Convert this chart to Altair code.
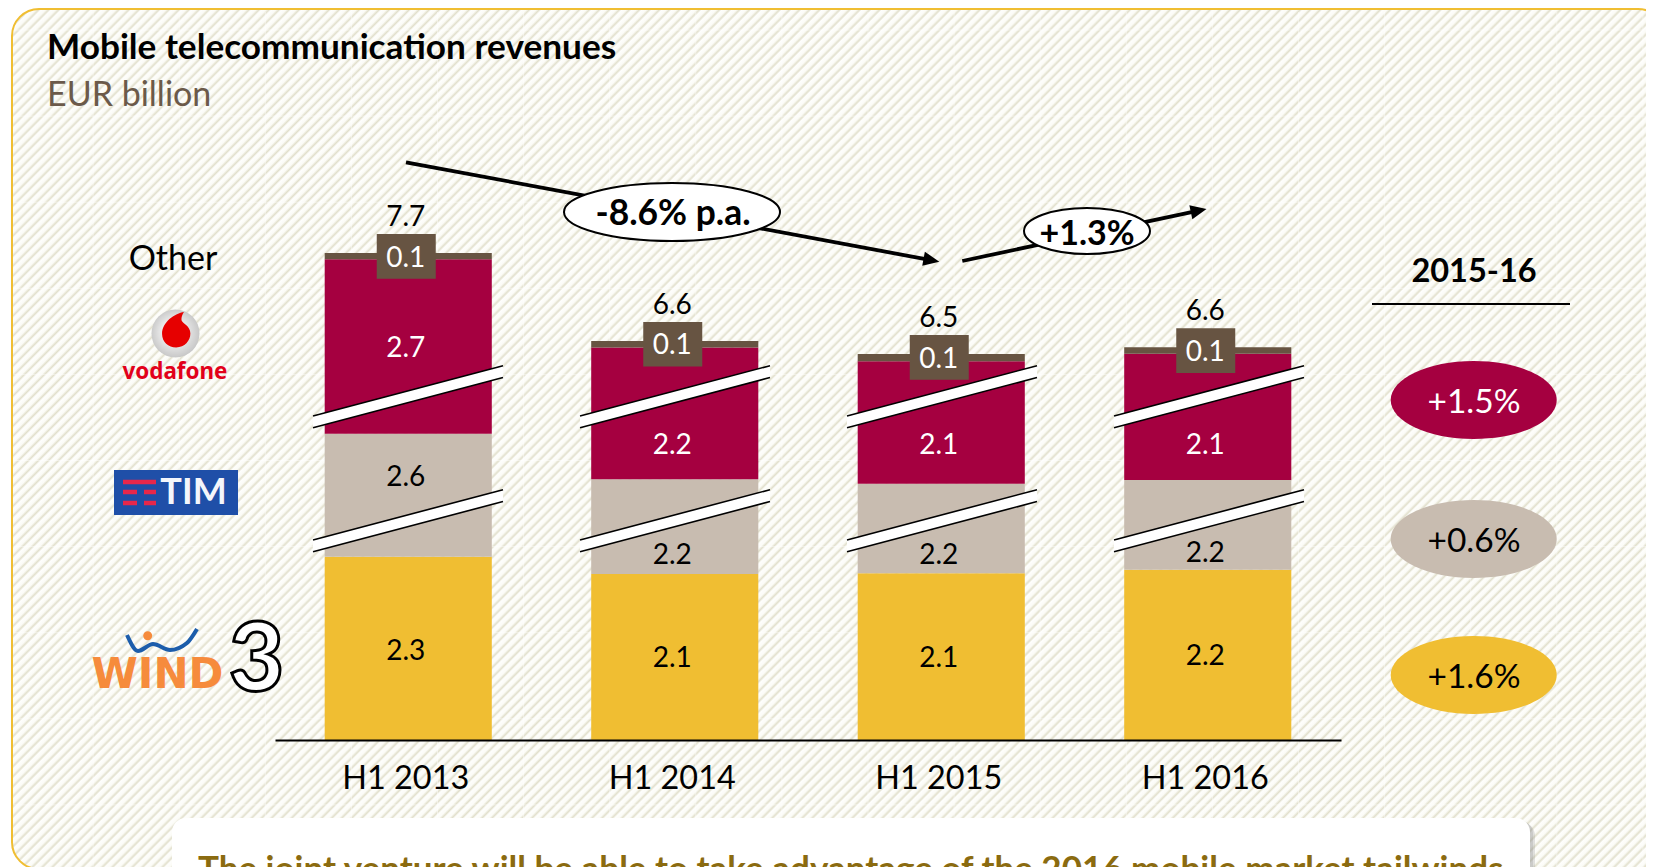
import math
import altair as alt

# ---------- data ----------
periods = ["H1 2013", "H1 2014", "H1 2015", "H1 2016"]
series = ["Wind/3", "TIM", "Vodafone", "Other"]
# printed figures
wind_labels = ["2.3", "2.1", "2.1", "2.2"]
tim_labels = ["2.6", "2.2", "2.2", "2.2"]
voda_labels = ["2.7", "2.2", "2.1", "2.1"]
other_labels = ["0.1", "0.1", "0.1", "0.1"]
total_labels = ["7.7", "6.6", "6.5", "6.6"]
# visible segment lengths (the two upper segments are drawn with axis breaks)
wind_drawn = [2.32, 2.10, 2.11, 2.155]
tim_drawn = [1.557, 1.20, 1.135, 1.135]
voda_drawn = [2.21, 1.667, 1.55, 1.60]
other_drawn = [0.076, 0.084, 0.09, 0.08]
# where each printed figure sits on the bar's scale
wind_label_at = [1.14, 1.05, 1.05, 1.08]
tim_label_at = [3.34, 2.356, 2.356, 2.38]
voda_label_at = [4.97, 3.75, 3.75, 3.75]
growth_labels = ["+1.5%", "+0.6%", "+1.6%"]
colors = {"Wind/3": "#f0be32", "TIM": "#c8bcb0", "Vodafone": "#a50040", "Other": "#675442"}
BROWN = colors["Other"]

FONT = "Lato"
W, H = 1638, 859

# ---------- scales ----------
def px(f):
    return alt.X(f, type="quantitative", scale=alt.Scale(domain=[8, 8 + W], range=[0, W], nice=False, zero=False), axis=None)

def py(f):
    return alt.Y(f, type="quantitative", scale=alt.Scale(domain=[8 + H, 8], range=[H, 0], nice=False, zero=False), axis=None)

BAND = alt.Scale(domain=periods, range=[267, 1333], paddingInner=0.373, paddingOuter=0.1865)
VAL = alt.Scale(domain=[0, 8], range=[732, 100], nice=False, zero=False)
UNIT = 79.0

def bx(axis=None):
    return alt.X("p:N", scale=BAND, sort=periods, axis=axis, title=None)

def by(f):
    return alt.Y(f, type="quantitative", scale=VAL, axis=None, stack=None)

def txt(t, x, y, size, color="black", weight="normal", align="center", baseline="middle", **kw):
    return alt.Chart(alt.Data(values=[{"x": x, "y": y, "t": t}])).mark_text(
        font=kw.pop("font", FONT), fontSize=size, color=color, fontWeight=weight, align=align, baseline=baseline,
        dy=2 if baseline == "middle" else 0, **kw
    ).encode(x=px("x"), y=py("y"), text="t:N")

def ellipse_path(b):
    k = 0.5523
    return (f"M-1,0 C-1,{-k*b} {-k},{-b} 0,{-b} C{k},{-b} 1,{-k*b} 1,0 "
            f"C1,{k*b} {k},{b} 0,{b} C{-k},{b} -1,{k*b} -1,0 Z")

def ell(x, y, w, h, fill, stroke=None, sw=0):
    kw = {"stroke": stroke, "strokeWidth": sw} if stroke else {"strokeWidth": 0}
    return alt.Chart(alt.Data(values=[{"x": x, "y": y}])).mark_point(
        shape=ellipse_path(h / w), size=w * w, filled=True, fill=fill, opacity=1, **kw
    ).encode(x=px("x"), y=py("y"))

def rule(x, y, x2, y2, color="black", width=2, **kw):
    return alt.Chart(alt.Data(values=[{"x": x, "y": y, "x2": x2, "y2": y2}])).mark_rule(
        color=color, strokeWidth=width, **kw
    ).encode(x=px("x"), y=py("y"), x2="x2:Q", y2="y2:Q")

def box(x, y, x2, y2, fill, radius=0, opacity=1, **kw):
    return alt.Chart(alt.Data(values=[{"x": x, "y": y, "x2": x2, "y2": y2}])).mark_rect(
        fill=fill, cornerRadius=radius, opacity=opacity, **kw
    ).encode(x=px("x"), y=py("y"), x2="x2:Q", y2="y2:Q")

# ---------- hatched panel ----------
L, T, R, B = 12, 9, 1665, 869
w, h = R - L, B - T
s = (w + h) / (w * w + h * h)
PERIOD = 10.0
n_stripes = int((w + h) / PERIOD)
stops = []
for i in range(n_stripes):
    stops.append(alt.GradientStop(offset=i / n_stripes, color="#fefefc"))
    stops.append(alt.GradientStop(offset=(i + 0.45) / n_stripes, color="#fbfbf6"))
    stops.append(alt.GradientStop(offset=(i + 0.75) / n_stripes, color="#e2e0cd"))
stops.append(alt.GradientStop(offset=1, color="#fefefc"))
hatch = alt.LinearGradient(gradient="linear", stops=stops, x1=0, y1=0, x2=s * w, y2=s * h)
panel = alt.Chart(alt.Data(values=[{"x": L, "y": T, "x2": R, "y2": B}])).mark_rect(
    fill=hatch, stroke="#f0be32", strokeWidth=2, cornerRadius=27
).encode(x=px("x"), y=py("y"), x2="x2:Q", y2="y2:Q")

seam_rows = []
for k in range(1, 20):
    seam_rows.append({"x": 7 + 86.1 * k, "x2": 7 + 86.1 * k, "y": 12, "y2": 867})
for k in range(0, 10):
    seam_rows.append({"x": 14, "x2": 1654, "y": 30 + 86.1 * k, "y2": 30 + 86.1 * k})
seams = alt.Chart(alt.Data(values=seam_rows)).mark_rule(color="white", strokeWidth=1, opacity=0.45).encode(
    x=px("x"), y=py("y"), x2="x2:Q", y2="y2:Q"
)

# ---------- bars ----------
drawn = {"Wind/3": wind_drawn, "TIM": tim_drawn, "Vodafone": voda_drawn, "Other": other_drawn}
rows = []
for i, p in enumerate(periods):
    for o, sr in enumerate(series):
        rows.append({"p": p, "s": sr, "v": drawn[sr][i], "o": o})
bars = alt.Chart(alt.Data(values=rows)).mark_bar().encode(
    x=bx(alt.Axis(domainColor="black", domainWidth=2, ticks=False, grid=False, labelFont=FONT, labelFontSize=32.4,
                  labelColor="black", labelPadding=22, labelOffset=-2.5, labelAngle=0, offset=732 - H, zindex=1,
                  labelOverlap=False)),
    y=alt.Y("v:Q", scale=VAL, axis=None, stack="zero"),
    color=alt.Color("s:N", scale=alt.Scale(domain=series, range=[colors[k] for k in series]), legend=None),
    order=alt.Order("o:Q"),
)

tops = [wind_drawn[i] + tim_drawn[i] + voda_drawn[i] + other_drawn[i] for i in range(4)]
tag_rows = [{"p": p, "a": tops[i] + 19 / UNIT, "b": tops[i] - 25.6 / UNIT} for i, p in enumerate(periods)]
tags = alt.Chart(alt.Data(values=tag_rows)).mark_bar(size=59, color=BROWN, xOffset=-2).encode(
    x=bx(), y=by("a"), y2="b:Q"
)

# axis breaks
bar_centers = [408 + 267 * i for i in range(4)]
band_rows, line_rows = [], []
for c in bar_centers:
    for shift in (0, 124):
        yl, yr = 416 + shift, 365.7 + shift
        t = 11.8
        band_rows += [
            {"id": f"{c}-{shift}", "x": c - 95, "y": yl, "y2": yl + t},
            {"id": f"{c}-{shift}", "x": c + 95, "y": yr, "y2": yr + t},
        ]
        line_rows += [
            {"x": c - 95, "y": yl, "x2": c + 95, "y2": yr},
            {"x": c - 95, "y": yl + t, "x2": c + 95, "y2": yr + t},
        ]
break_bands = alt.Chart(alt.Data(values=band_rows)).mark_area(color="white", opacity=1).encode(
    x=px("x"), y=alt.Y("y", type="quantitative", scale=alt.Scale(domain=[8 + H, 8], range=[H, 0], nice=False, zero=False), axis=None, stack=None),
    y2="y2:Q", detail="id:N"
)
break_lines = alt.Chart(alt.Data(values=line_rows)).mark_rule(color="black", strokeWidth=1.6).encode(
    x=px("x"), y=py("y"), x2="x2:Q", y2="y2:Q"
)

# printed figures
def fig(labels, at, color):
    vals = [{"p": p, "y": at[i], "t": labels[i]} for i, p in enumerate(periods)]
    return alt.Chart(alt.Data(values=vals)).mark_text(font=FONT, fontSize=28, color=color, baseline="middle", dx=-2.5, dy=2).encode(
        x=bx(), y=by("y"), text="t:N"
    )

figures = [
    fig(wind_labels, wind_label_at, "black"),
    fig(tim_labels, tim_label_at, "black"),
    fig(voda_labels, voda_label_at, "white"),
    fig(other_labels, [t - 3.5 / UNIT for t in tops], "white"),
    fig(total_labels, [t + 37 / UNIT for t in tops], "black"),
]

# ---------- trend arrows ----------
HEAD = "M-1,-0.9 L-1,0.9 L1,0 Z"

def arrow(x0, y0, x1, y1):
    ang = math.atan2(y1 - y0, x1 - x0)
    deg = math.degrees(ang) % 360
    cx, cy = x1 - 8 * math.cos(ang), y1 - 8 * math.sin(ang)
    bx0, by0 = x1 - 14 * math.cos(ang), y1 - 14 * math.sin(ang)
    head = alt.Chart(alt.Data(values=[{"x": cx, "y": cy}])).mark_point(
        shape=HEAD, size=256, filled=True, fill="black", opacity=1, strokeWidth=0, angle=deg
    ).encode(x=px("x"), y=py("y"))
    return [rule(x0, y0, bx0, by0, width=3.8), head]

trend = arrow(406, 162.3, 939.3, 261.7) + arrow(962.3, 261, 1206.5, 209)
trend += [
    ell(672, 212, 216, 58, "white", "black", 2),
    txt("-8.6% p.a.", 673, 212, 35.4, weight="bold"),
    ell(1087, 231, 126, 46, "white", "black", 2),
    txt("+1.3%", 1087, 233, 34, weight="bold"),
]

# ---------- right-hand panel ----------
right = [
    txt("2015-16", 1474, 270, 32.5, weight="bold"),
    rule(1372, 304, 1570, 304, width=2),
    ell(1473.7, 400, 166, 78, colors["Vodafone"]),
    txt(growth_labels[0], 1474, 401, 33.5, color="white"),
    ell(1473.7, 539, 166, 78, colors["TIM"]),
    txt(growth_labels[1], 1474, 540, 33.5),
    ell(1473.7, 675, 166, 78, colors["Wind/3"]),
    txt(growth_labels[2], 1474, 676, 33.5),
]

# ---------- brand marks ----------
sphere = alt.RadialGradient(
    gradient="radial", r1=0.1, r2=0.62, x1=0.45, y1=0.45, x2=0.5, y2=0.5,
    stops=[alt.GradientStop(offset=0, color="#ffffff"), alt.GradientStop(offset=1, color="#b9b9b9")],
)
COMMA = ("M0.35,-0.9 C0,-0.85 -0.56,-0.5 -0.56,0.02 C-0.56,0.35 -0.3,0.58 0.03,0.58 "
         "C0.38,0.58 0.62,0.3 0.62,0 C0.62,-0.32 0.3,-0.4 0.25,-0.55 C0.24,-0.68 0.28,-0.8 0.35,-0.9 Z")
voda_logo = [
    alt.Chart(alt.Data(values=[{"x": 175.5, "y": 333.5}])).mark_point(
        shape="circle", size=48 * 48, filled=True, fill=sphere, opacity=1, strokeWidth=0
    ).encode(x=px("x"), y=py("y")),
    alt.Chart(alt.Data(values=[{"x": 175.5, "y": 333.5}])).mark_point(
        shape=COMMA, size=48 * 48, filled=True, fill="#e60000", opacity=1, strokeWidth=0
    ).encode(x=px("x"), y=py("y")),
    txt("vodafone", 175, 370, 22.4, color="#e2001a", weight="bold", font="Noto Sans"),
]
tim_logo = [
    box(114, 470, 238, 515, "#1f4fa8"),
    rule(123, 482, 156, 482, color="#e8274b", width=4.5),
    rule(123, 492, 137, 492, color="#e8274b", width=4.5),
    rule(144, 492, 156, 492, color="#e8274b", width=4.5),
    rule(123, 503, 137, 503, color="#e8274b", width=4.5),
    rule(144, 503, 156, 503, color="#e8274b", width=4.5),
    txt("TIM", 193.5, 490.5, 36, color="#f4f6fb", weight="bold"),
]
swoosh_x = [127, 138, 153, 170, 187, 197]
swoosh_y = [635, 651, 644, 650, 643, 629]
swoosh = alt.Chart(alt.Data(values=[{"x": a, "y": b} for a, b in zip(swoosh_x, swoosh_y)])).mark_line(
    color="#1c5dab", strokeWidth=4, interpolate="monotone"
).encode(x=px("x"), y=py("y"))
wind_logo = [
    swoosh,
    ell(147.7, 635.7, 9, 9, "#f68b3c"),
    txt("WIND", 157.5, 673, 42, color="#f68b3c", weight="bold", font="DejaVu Sans"),
    txt("3", 256.5, 660, 95, color="white", weight=900, stroke="black", strokeWidth=3),
]

# ---------- titles and note ----------
heads = [
    txt("Mobile telecommunication revenues", 47, 46, 35.2, weight="bold", align="left"),
    txt("EUR billion", 47, 94, 34, color="#6b5a4a", align="left"),
    txt("Other", 173, 257.5, 34),
]
note = [
    box(176, 822, 1535, 900, "#8a8a8a", radius=14, opacity=0.25),
    box(174, 820, 1533, 900, "#8a8a8a", radius=14, opacity=0.25),
    box(172, 818, 1530, 900, "white", radius=14),
    txt("The joint venture will be able to take advantage of the 2016 mobile market tailwinds", 198, 881, 35,
        color="#8b6b10", weight="bold", align="left", baseline="alphabetic"),
]

layers = [panel, seams, bars, tags, break_bands, break_lines] + figures + trend + right + voda_logo + tim_logo + wind_logo + heads + note

chart = alt.layer(*layers).resolve_scale(x="independent", y="independent", color="independent").properties(
    width=W, height=H, padding=0, autosize=alt.AutoSizeParams(type="none"),
    background="white"
).configure_view(stroke=None)

chart.save("out.html", embed_options={"renderer": "svg", "actions": False})
